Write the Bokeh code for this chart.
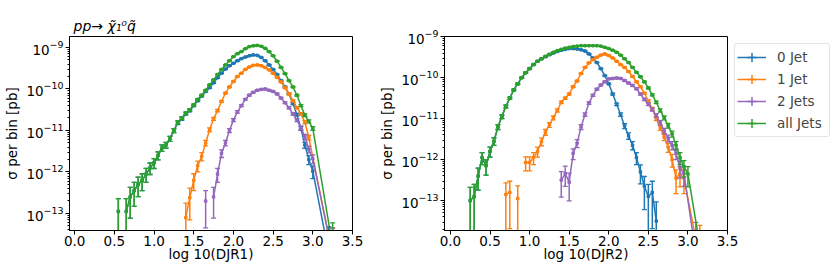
import numpy as np
from bokeh.plotting import figure
from bokeh.models import (Range1d, FixedTicker, CustomJSTickFormatter, LogTickFormatter, Legend,
                          LegendItem, ColumnDataSource, CDSView, IndexFilter)
from bokeh.layouts import row
from bokeh.embed import file_html
from bokeh.resources import INLINE

# ---------------- data: log10(sigma per bin [pb]); None = empty bin ----------------
# DJR1 panel
djr1_0jet_x = [0.55, 0.60, 0.65, 0.70, 0.75, 0.80, 0.85, 0.90, 0.95, 1.00, 1.05, 1.10, 1.15, 1.20,
               1.25, 1.30, 1.35, 1.40, 1.45, 1.50, 1.55, 1.60, 1.65, 1.70, 1.75, 1.80, 1.85, 1.90,
               1.95, 2.00, 2.05, 2.10, 2.15, 2.20, 2.25, 2.30, 2.35, 2.40, 2.45, 2.50, 2.55, 2.60,
               2.65, 2.70, 2.75, 2.80, 2.85, 2.90, 2.95, 3.00, 3.20]
djr1_0jet_log = [-12.95, None, -12.95, -12.6, -12.45, -12.3, -12.2, -12.05, -11.9, -11.78, -11.6, -11.42,
                 -11.35, -11.2, -11.0, -10.82, -10.72, -10.6, -10.52, -10.4, -10.28, -10.17, -10.06,
                 -9.97, -9.85, -9.73, -9.62, -9.52, -9.44, -9.38, -9.32, -9.27, -9.23, -9.2, -9.18,
                 -9.19, -9.24, -9.32, -9.42, -9.53, -9.65, -9.8, -9.95, -10.12, -10.35, -10.62,
                 -10.95, -11.35, -11.7, -11.98, -13.95]

djr1_1jet_x = [1.40, 1.45, 1.50, 1.55, 1.60, 1.65, 1.70, 1.75, 1.80, 1.85, 1.90, 1.95, 2.00, 2.05,
               2.10, 2.15, 2.20, 2.25, 2.30, 2.35, 2.40, 2.45, 2.50, 2.55, 2.60, 2.65, 2.70, 2.75,
               2.80, 2.85, 2.90, 2.95, 3.25]
djr1_1jet_log = [-13.1, -12.62, -12.2, -11.85, -11.62, -11.3, -10.98, -10.72, -10.52, -10.3, -10.1,
                 -9.95, -9.82, -9.7, -9.62, -9.53, -9.47, -9.43, -9.42, -9.44, -9.48, -9.54, -9.62,
                 -9.72, -9.83, -9.97, -10.12, -10.28, -10.45, -10.6, -10.8, -11.17, -14.0]

djr1_2jet_x = [1.65, 1.70, 1.75, 1.80, 1.85, 1.90, 1.95, 2.00, 2.05, 2.10, 2.15, 2.20, 2.25, 2.30,
               2.35, 2.40, 2.45, 2.50, 2.55, 2.60, 2.65, 2.70, 2.75, 2.80, 2.85, 2.90, 2.95, 3.00,
               3.25]
djr1_2jet_log = [-12.7, None, -12.6, -12.05, -11.55, -11.3, -11.0, -10.75, -10.55, -10.4, -10.25,
                 -10.15, -10.08, -10.03, -10.01, -10.0, -10.03, -10.06, -10.12, -10.22, -10.33,
                 -10.45, -10.6, -10.75, -10.93, -11.15, -11.45, -11.68, -14.0]

djr1_all_x = [0.55, 0.60, 0.65, 0.70, 0.75, 0.80, 0.85, 0.90, 0.95, 1.00, 1.05, 1.10, 1.15, 1.20,
              1.25, 1.30, 1.35, 1.40, 1.45, 1.50, 1.55, 1.60, 1.65, 1.70, 1.75, 1.80, 1.85, 1.90,
              1.95, 2.00, 2.05, 2.10, 2.15, 2.20, 2.25, 2.30, 2.35, 2.40, 2.45, 2.50, 2.55, 2.60,
              2.65, 2.70, 2.75, 2.80, 2.85, 2.90, 2.95, 3.00, 3.25]
djr1_all_log = [-12.95, None, -12.95, -12.6, -12.45, -12.3, -12.2, -12.05, -11.9, -11.78, -11.6, -11.42,
                -11.35, -11.2, -11.0, -10.8, -10.7, -10.58, -10.5, -10.38, -10.25, -10.15, -10.03,
                -9.9, -9.78, -9.65, -9.53, -9.42, -9.32, -9.22, -9.15, -9.1, -9.03, -8.98, -8.96,
                -8.95, -8.97, -9.02, -9.1, -9.2, -9.33, -9.48, -9.63, -9.8, -9.95, -10.15, -10.4,
                -10.63, -10.78, -10.95, -13.8]

# DJR2 panel
djr2_0jet_x = [0.20, 0.25, 0.30, 0.35, 0.40, 0.45, 0.50, 0.55, 0.60, 0.65, 0.70, 0.75, 0.80, 0.85,
               0.90, 0.95, 1.00, 1.05, 1.10, 1.15, 1.20, 1.25, 1.30, 1.35, 1.40, 1.45, 1.50, 1.55,
               1.60, 1.65, 1.70, 1.75, 1.80, 1.85, 1.90, 1.95, 2.00, 2.05, 2.10, 2.15, 2.20, 2.25,
               2.30, 2.35, 2.40, 2.45, 2.50, 2.55, 2.60]
djr2_0jet_log = [None, -13.0, -12.9, -12.4, -11.95, -12.15, -11.8, -11.55, -11.2, -10.95, -10.7, -10.5,
                 -10.3, -10.15, -10.0, -9.88, -9.78, -9.68, -9.6, -9.54, -9.49, -9.44, -9.4, -9.36,
                 -9.33, -9.31, -9.29, -9.29, -9.3, -9.32, -9.35, -9.42, -9.52, -9.63, -9.78, -9.95,
                 -10.15, -10.4, -10.65, -10.9, -11.18, -11.42, -11.65, -11.95, -12.3, -12.65, -12.9,
                 -12.8, -13.5]

djr2_1jet_x = [0.65, 0.70, 0.75, 0.80, 0.85, 0.90, 0.95, 1.00, 1.05, 1.10, 1.15, 1.20, 1.25, 1.30,
               1.35, 1.40, 1.45, 1.50, 1.55, 1.60, 1.65, 1.70, 1.75, 1.80, 1.85, 1.90, 1.95, 2.00,
               2.05, 2.10, 2.15, 2.20, 2.25, 2.30, 2.35, 2.40, 2.45, 2.50, 2.55, 2.60, 2.65, 2.70,
               2.75, 2.80, 2.85, 2.90, 2.95, 3.15]
djr2_1jet_log = [None, -12.85, -12.8, None, -12.95, None, -12.07, -12.07, -11.95, -11.8, -11.56, -11.33,
                 -11.15, -10.98, -10.8, -10.6, -10.5, -10.4, -10.22, -10.08, -9.9, -9.75, -9.64,
                 -9.56, -9.5, -9.45, -9.42, -9.46, -9.52, -9.6, -9.68, -9.75, -9.85, -9.97, -10.1,
                 -10.22, -10.38, -10.57, -10.76, -11.0, -11.22, -11.45, -11.7, -12.0, -12.45,
                 -12.35, -12.45, -14.43]

djr2_2jet_x = [1.35, 1.40, 1.45, 1.50, 1.55, 1.60, 1.65, 1.70, 1.75, 1.80, 1.85, 1.90, 1.95, 2.00,
               2.05, 2.10, 2.15, 2.20, 2.25, 2.30, 2.35, 2.40, 2.45, 2.50, 2.55, 2.60, 2.65, 2.70,
               2.75, 2.80, 2.85, 2.90, 2.95, 3.10]
djr2_2jet_log = [None, -12.5, -12.34, -12.55, -11.85, -11.6, -11.2, -10.9, -10.62, -10.43, -10.28,
                 -10.18, -10.1, -10.03, -10.02, -10.01, -10.02, -10.07, -10.13, -10.19, -10.27,
                 -10.4, -10.53, -10.65, -10.78, -10.92, -11.1, -11.3, -11.48, -11.65, -11.85,
                 -12.2, -12.34, -14.3]

djr2_all_x = [0.20, 0.25, 0.30, 0.35, 0.40, 0.45, 0.50, 0.55, 0.60, 0.65, 0.70, 0.75, 0.80, 0.85,
              0.90, 0.95, 1.00, 1.05, 1.10, 1.15, 1.20, 1.25, 1.30, 1.35, 1.40, 1.45, 1.50, 1.55,
              1.60, 1.65, 1.70, 1.75, 1.80, 1.85, 1.90, 1.95, 2.00, 2.05, 2.10, 2.15, 2.20, 2.25,
              2.30, 2.35, 2.40, 2.45, 2.50, 2.55, 2.60, 2.65, 2.70, 2.75, 2.80, 2.85, 2.90, 2.95,
              3.00, 3.20]
djr2_all_log = [None, -13.0, -12.9, -12.4, -11.95, -12.15, -11.8, -11.55, -11.2, -10.95, -10.7, -10.5,
                -10.3, -10.15, -10.0, -9.88, -9.78, -9.68, -9.6, -9.54, -9.48, -9.43, -9.38, -9.34,
                -9.31, -9.28, -9.26, -9.24, -9.23, -9.22, -9.22, -9.22, -9.22, -9.22, -9.23, -9.26,
                -9.29, -9.33, -9.38, -9.45, -9.54, -9.63, -9.75, -9.87, -9.98, -10.1, -10.25,
                -10.42, -10.6, -10.8, -10.98, -11.17, -11.37, -11.65, -11.95, -12.18, -12.35, -14.66]

series_labels = ["0 Jet", "1 Jet", "2 Jets", "all Jets"]
series_colors = ["#1f77b4", "#ff7f0e", "#9467bd", "#2ca02c"]
x_tick_values = [0.0, 0.5, 1.0, 1.5, 2.0, 2.5, 3.0, 3.5]
y_decades = [-13, -12, -11, -10, -9]
EVENT_WEIGHT = 1.2e-13   # weight of one MC event [pb]; error = sqrt(N) * w

FONT = "DejaVu Sans"


def make_fig(ylog_lo, ylog_hi, x_lo, xlabel, min_left, min_right):
    p = figure(frame_width=283, frame_height=194, y_axis_type="log",
               x_range=Range1d(x_lo, 3.5), y_range=Range1d(10 ** ylog_lo, 10 ** ylog_hi),
               output_backend="svg", toolbar_location=None,
               min_border_left=min_left, min_border_right=min_right,
               min_border_top=36, min_border_bottom=20)
    p.grid.visible = False
    p.outline_line_color = "black"
    p.outline_line_width = 1
    p.background_fill_color = "white"
    p.border_fill_color = "white"

    p.xaxis.ticker = FixedTicker(ticks=x_tick_values)
    p.xaxis.formatter = CustomJSTickFormatter(code="return tick.toFixed(1);")
    minors = [k * 10.0 ** d for d in range(-14, -8) for k in range(2, 10)]
    p.yaxis.ticker = FixedTicker(ticks=[10.0 ** d for d in y_decades], minor_ticks=minors)
    p.yaxis.formatter = LogTickFormatter()
    for ax in (p.xaxis[0], p.yaxis[0]):
        ax.axis_line_color = "black"
        ax.major_tick_line_color = "black"
        ax.minor_tick_line_color = "black"
        ax.major_tick_in = 0
        ax.major_tick_out = 4
        ax.minor_tick_in = 0
        ax.minor_tick_out = 2
        ax.major_label_text_font = FONT
        ax.major_label_text_font_size = "13.5px"
        ax.major_label_text_color = "black"
        ax.axis_label_text_font = FONT
        ax.axis_label_text_font_size = "13.5px"
        ax.axis_label_text_font_style = "normal"
        ax.axis_label_text_color = "black"
    p.xaxis.minor_tick_line_color = None
    p.xaxis.major_label_standoff = 1
    p.xaxis.axis_label_standoff = -3
    p.yaxis.major_label_standoff = 2
    p.yaxis.axis_label_standoff = 3
    p.xaxis.axis_label = xlabel
    p.yaxis.axis_label = "\u03c3 per bin [pb]"
    return p


def draw(p, xs, logs, color):
    x = np.array(xs, dtype=float)
    y = np.array([np.nan if v is None else 10.0 ** v for v in logs])
    err = np.sqrt(y * EVENT_WEIGHT)
    lo = np.maximum(y - err, 1e-17)
    hi = y + err
    src = ColumnDataSource(dict(x=x, y=y, lo=lo, hi=hi))
    p.segment(x0="x", y0="lo", x1="x", y1="hi", source=src, line_color=color, line_width=1.5)
    p.scatter(x="x", y="hi", source=src, marker="dash", size=5, line_color=color, line_width=1.3)
    p.scatter(x="x", y="lo", source=src, marker="dash", size=5, line_color=color, line_width=1.3)
    ln = p.line(x="x", y="y", source=src, line_color=color, line_width=1.5)
    p.scatter(x="x", y="y", source=src, marker="square", size=2.5, line_color=color, fill_color=color)
    return ln, src, lo


p1 = make_fig(-13.41, -8.735, -0.065, "log 10(DJR1)", 69, 24)
p1.title.text = "pp\u2192 \u03c7\u0303\u2081\u2070q\u0303"
p1.title.align = "left"
p1.title.offset = 4
p1.title.text_font = FONT
p1.title.text_font_size = "14px"
p1.title.text_font_style = "italic"
p1.title.text_color = "black"
p1.title.standoff = 5

p2 = make_fig(-13.73, -8.995, -0.075, "log 10(DJR2)", 60, 10)

for xs, ls, c in zip([djr1_0jet_x, djr1_1jet_x, djr1_2jet_x, djr1_all_x],
                     [djr1_0jet_log, djr1_1jet_log, djr1_2jet_log, djr1_all_log], series_colors):
    draw(p1, xs, ls, c)

items = []
for xs, ls, c, lab in zip([djr2_0jet_x, djr2_1jet_x, djr2_2jet_x, djr2_all_x],
                          [djr2_0jet_log, djr2_1jet_log, djr2_2jet_log, djr2_all_log],
                          series_colors, series_labels):
    ln, src, lo = draw(p2, xs, ls, c)
    # error-bar glyph for the legend: drawn on an off-frame (clipped) lower error point
    idx = int(np.nanargmin(lo))
    bar = p2.scatter(x="x", y="lo", source=src, view=CDSView(filter=IndexFilter([idx])),
                     marker="cross", size=12, line_color=c, line_width=1.5)
    items.append(LegendItem(label=lab, renderers=[ln, bar], index=idx))

legend = Legend(items=items, location="top_left", margin=7, padding=2, spacing=-1,
                glyph_width=29, glyph_height=22, label_height=22, label_standoff=11,
                label_width=50,
                label_text_font=FONT, label_text_font_size="13.5px",
                border_line_color="#cccccc", border_line_width=1,
                background_fill_color="white", background_fill_alpha=0.8)
try:
    legend.border_radius = 3
except Exception:
    pass
p2.add_layout(legend, "right")

layout = row(p1, p2)
open("out.html", "w").write(file_html(layout, INLINE))
